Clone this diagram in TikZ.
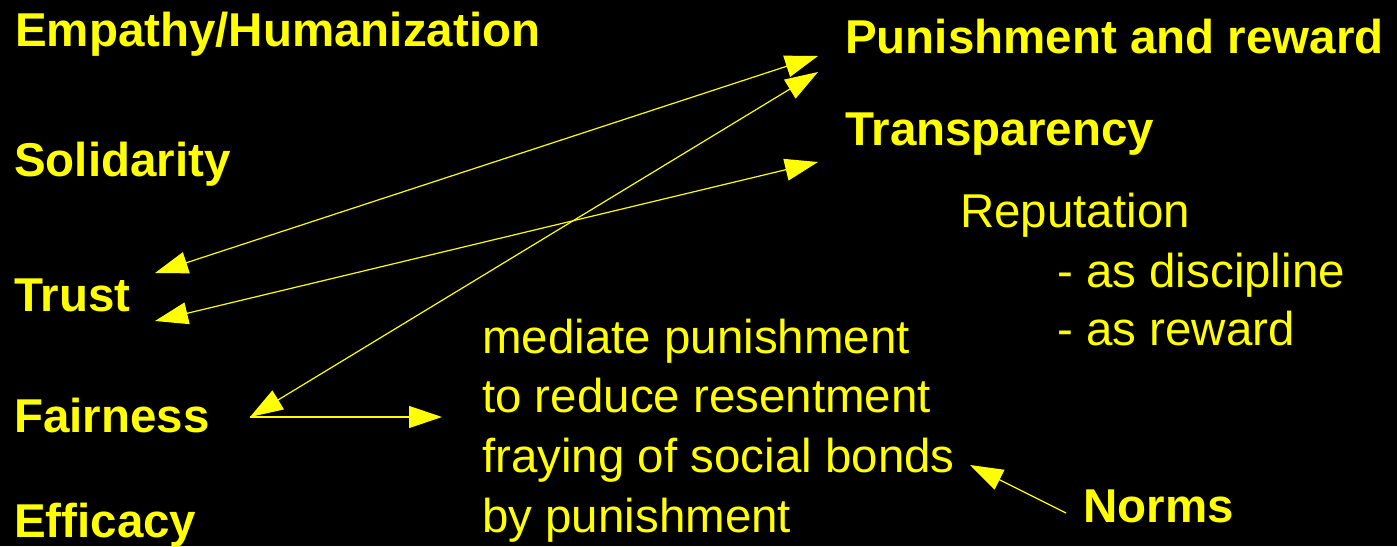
\documentclass[tikz,border=0pt]{standalone}
\usepackage{fontspec}
\setmainfont{Liberation Sans}
\usetikzlibrary{arrows.meta}
\definecolor{yel}{RGB}{255,255,0}
\tikzset{
  lbl/.style={anchor=base west, inner sep=0pt, text=yel, font=\fontsize{47.5}{57}\selectfont},
  key/.style={lbl, font=\fontsize{47.5}{57}\selectfont\bfseries},
  conn/.style={draw=yel, line width=1.2pt, -{Triangle[length=33pt,width=22pt]}},
  biconn/.style={draw=yel, line width=1.2pt, {Triangle[length=33pt,width=22pt]}-{Triangle[length=33pt,width=22pt]}}
}
\begin{document}
\begin{tikzpicture}[x=1pt,y=-1pt]
\fill[black] (0,0) rectangle (1397,546);
\useasboundingbox (0,0) rectangle (1397,546);
% left column
\node[key] (emp) at (15,46) {Empathy/Humanization};
\node[key] (sol) at (14,176) {Solidarity};
\node[key] (trust) at (14,311) {Trust};
\node[key] (fair) at (14,432) {Fairness};
\node[key] (eff) at (14,537) {Efficacy};
% right column
\node[key] (pr) at (845,53) {Punishment and reward};
\node[key] (tr) at (845,145) {Transparency};
\node[lbl] (rep) at (960,227) {Reputation};
\node[lbl] (rep1) at (1057,287) {- as discipline};
\node[lbl] (rep2) at (1057,345) {- as reward};
% middle text
\node[lbl] (med1) at (482,353) {mediate punishment};
\node[lbl] (med2) at (482,412) {to reduce resentment};
\node[lbl] (med3) at (482,472) {fraying of social bonds};
\node[lbl] (med4) at (482,532) {by punishment};
\node[key] (norms) at (1083,522) {Norms};
% connector ends
\coordinate (prA) at (818,56);
\coordinate (prB) at (818,72);
\coordinate (trA) at (818,162);
\coordinate (trustA) at (155,273);
\coordinate (trustB) at (155,321);
\coordinate (fairA) at (250,417);
\coordinate (medA) at (442,417);
\coordinate (bondsA) at (970,465);
\coordinate (normsA) at (1066,513);
% connectors
\draw[biconn] (trustA) -- (prA);
\draw[biconn] (fairA) -- (prB);
\draw[biconn] (trustB) -- (trA);
\draw[conn] (fairA) -- (medA);
\draw[conn] (normsA) -- (bondsA);
\end{tikzpicture}
\end{document}
